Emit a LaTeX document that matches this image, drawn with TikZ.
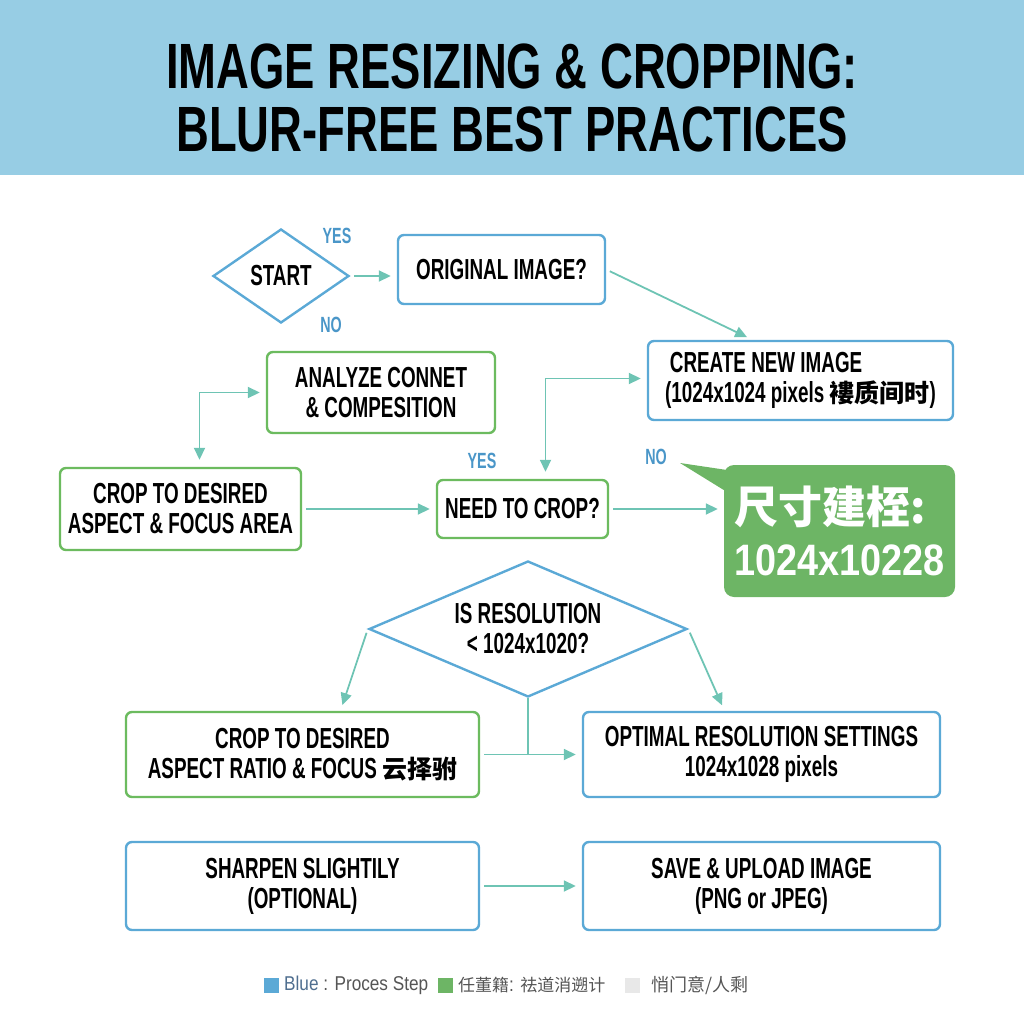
\documentclass[tikz,border=0pt]{standalone}
\usepackage{fontspec}
\setmainfont{Liberation Sans}[FakeStretch=0.65]
\newfontfamily\titlefont{Liberation Sans}[FakeStretch=0.71]
\newfontfamily\widefont{Liberation Sans}[FakeStretch=0.86]
\newfontfamily\cjk{Noto Sans CJK SC}
\usepackage{tikz}
\usetikzlibrary{shapes.geometric,arrows.meta,calc}
\definecolor{headblue}{HTML}{97CDE4}
\definecolor{boxblue}{HTML}{5BA9D6}
\definecolor{boxgreen}{HTML}{6CBB5F}
\definecolor{calloutgreen}{HTML}{6DB565}
\definecolor{arrowteal}{HTML}{6EC4B4}
\definecolor{labelblue}{HTML}{4A96C8}
\definecolor{legendgray}{HTML}{555555}
\definecolor{legendblue}{HTML}{4F6E8F}
\definecolor{keygray}{HTML}{E8E8E8}
\newcommand{\boxw}{2.4pt}
\newcommand{\flowline}{1.8pt}
\newcommand{\tip}{Triangle[length=12pt,width=11pt]}
\newcommand{\boxcjk}[1]{{\cjk\fontsize{25}{30}\selectfont #1}}

\begin{document}
\begin{tikzpicture}[x=1pt,y=-1pt,
  box/.style={draw,rounded corners=6pt,line width=\boxw,fill=white,align=center,inner sep=0pt,
    font=\fontsize{29}{30}\selectfont\bfseries},
  bluebox/.style={box,draw=boxblue},
  greenbox/.style={box,draw=boxgreen},
  decision/.style={diamond,draw=boxblue,line width=\boxw,align=center,inner sep=0pt,
    font=\fontsize{29}{30}\selectfont\bfseries},
  flow/.style={draw=arrowteal,line width=\flowline,-{\tip},shorten >=6pt,shorten <=4pt},
  flowboth/.style={draw=arrowteal,line width=\flowline,{\tip}-{\tip},shorten >=6pt,shorten <=7pt},
  answer/.style={text=labelblue,font=\fontsize{22}{24}\selectfont\bfseries},
  headline/.style={inner sep=0pt,font=\titlefont\fontsize{64}{64}\selectfont\bfseries},
  legendtext/.style={anchor=west,inner sep=0pt,text=legendgray,font=\widefont\fontsize{20}{22}\selectfont}]
\useasboundingbox (0,0) rectangle (1024,1024);
%header
\fill[headblue] (0,0) rectangle (1024,175);
\node[headline] (title1) at (512,66) {IMAGE RESIZING \& CROPPING:};
\node[headline] (title2) at (512,129) {BLUR-FREE BEST PRACTICES};
%nodes
\node[decision] (start) at (281,276) [minimum width=136pt,minimum height=94pt,aspect=1.45] {START};
\node[bluebox] (orig) at (501.5,269.5) [minimum width=207pt,minimum height=69pt] {ORIGINAL IMAGE?};
\node[bluebox] (create) at (800.5,380.5) [minimum width=305pt,minimum height=79pt,align=left]
  {\,CREATE NEW IMAGE\\(1024x1024 pixels \boxcjk{褸质间时})};
\node[greenbox] (analyze) at (381,392.5) [minimum width=228pt,minimum height=81pt] {ANALYZE CONNET\\\& COMPESITION};
\node[greenbox] (crop1) at (180.5,509) [minimum width=241pt,minimum height=82pt] {CROP TO DESIRED\\ASPECT \& FOCUS AREA};
\node[greenbox] (need) at (522.5,509) [minimum width=171pt,minimum height=58pt] {NEED TO CROP?};
\node[fill=calloutgreen,rounded corners=10pt,text=white,align=left,inner sep=0pt] (callout) at (839.5,531)
  [minimum width=231pt,minimum height=132pt,font=\widefont\fontsize{44}{52}\selectfont\bfseries]
  {{\cjk 尺寸建桎:}\\1024x10228};
\coordinate (tail) at (680,463);
\fill[calloutgreen] (tail) -- (727,470) -- (727,492) -- cycle;
\node[decision] (res) at (528,629) [minimum width=318pt,minimum height=136pt,aspect=2.3] {IS RESOLUTION\\< 1024x1020?};
\node[greenbox] (crop2) at (302.5,754.5) [minimum width=353pt,minimum height=85pt]
  {CROP TO DESIRED\\ASPECT RATIO \& FOCUS \boxcjk{云择驸}};
\node[bluebox] (optimal) at (761.5,754.5) [minimum width=357pt,minimum height=85pt]
  {OPTIMAL RESOLUTION SETTINGS\\1024x1028 pixels};
\node[bluebox] (sharpen) at (302.5,886) [minimum width=353pt,minimum height=88pt] {SHARPEN SLIGHTILY\\(OPTIONAL)};
\node[bluebox] (save) at (761.5,886) [minimum width=357pt,minimum height=88pt] {SAVE \& UPLOAD IMAGE\\(PNG or JPEG)};
%answers
\node[answer] (yes1) at (337,236) {YES};
\node[answer] (no1) at (331,325) {NO};
\node[answer] (yes2) at (482,461) {YES};
\node[answer] (no2) at (656,457) {NO};
%connectors
\draw[flow] (start.east) -- (start.east -| orig.west);
\draw[flow] (orig.east) -- ([xshift=-48pt]create.north);
\draw[flowboth] ([xshift=19pt]crop1.north) |- (analyze.west);
\draw[flow] (crop1.east) -- (need.west);
\draw[flowboth] ([xshift=23pt]need.north) |- ([yshift=2pt]create.west);
\draw[flow] (need.east) -- (need.east -| callout.west);
\draw[flow] (res.west) -- ([xshift=38pt]crop2.north);
\draw[flow] (res.east) -- ([xshift=-37pt]optimal.north);
\coordinate (join) at (res.south |- crop2.east);
\draw[draw=arrowteal,line width=\flowline] (res.south) -- (join);
\draw[flow] (crop2.east) -- (optimal.west);
\draw[flow] (sharpen.east) -- (save.west);
%legend
\fill[boxblue] (264,978) rectangle (279,993);
\node[legendtext] (keyblue) at (284,985) {\textcolor{legendblue}{Blue} : Proces Step};
\fill[calloutgreen] (438,978) rectangle (453,993);
\node[legendtext] (keygreen) at (458,985) {{\cjk\fontsize{17}{20}\selectfont 任董籍}: {\cjk\fontsize{17}{20}\selectfont 祛道消遡计}};
\fill[keygray] (625,978) rectangle (640,993);
\node[legendtext] (keylight) at (651,985) {{\cjk\fontsize{18}{20}\selectfont 悄门意/人剩}};
\end{tikzpicture}
\end{document}
